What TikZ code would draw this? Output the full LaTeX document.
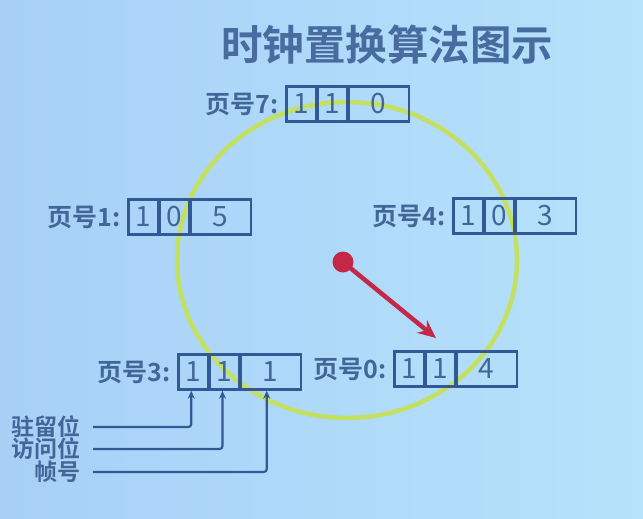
\documentclass[tikz,border=0pt]{standalone}
\usepackage{fontspec}
\usetikzlibrary{arrows.meta}
\newfontfamily\cjk{Noto Sans CJK SC}[BoldFont={Noto Sans CJK SC Bold}]
\definecolor{bgl}{RGB}{168,208,247}
\definecolor{bgr}{RGB}{182,226,251}
\definecolor{inkblue}{RGB}{50,88,150}
\definecolor{txtblue}{RGB}{66,102,152}
\definecolor{titleblue}{RGB}{72,108,160}
\definecolor{ringgreen}{RGB}{196,224,96}
\definecolor{handred}{RGB}{196,40,72}
\tikzset{
  cell/.style={draw=inkblue, line width=2.5pt, minimum height=35pt, inner sep=0pt,
    text=txtblue, font=\cjk\fontsize{28}{28}\selectfont, anchor=west},
  pagelabel/.style={anchor=east, inner sep=0pt, text=txtblue, font=\cjk\bfseries\fontsize{25}{25}\selectfont},
  fieldlabel/.style={anchor=east, inner sep=0pt, text=txtblue, font=\cjk\bfseries\fontsize{23}{23}\selectfont},
  pointer/.style={draw=inkblue, line width=2.2pt, rounded corners=3pt, -{Stealth[length=8pt,width=7pt]}},
  ring/.style={draw=ringgreen, line width=4.5pt},
  hand/.style={draw=handred, line width=4.5pt, -{Stealth[length=18pt,width=16pt]}}
}
% one page entry: label followed by three cells (name-a, name-b, name-c)
\newcommand\pageentry[7]{%
  \node[cell, minimum width=30pt] (#1-a) at (#2,#3) {#5};
  \node[cell, minimum width=30pt] (#1-b) at ([xshift=-1.25pt]#1-a.east) {#6};
  \node[cell, minimum width=60pt] (#1-c) at ([xshift=-1.25pt]#1-b.east) {#7};
  \node[pagelabel] (#1-lbl) at (#2-6,#3) {#4};
}
\begin{document}
\begin{tikzpicture}[x=1pt,y=-1pt]
  % background
  \shade[left color=bgl, right color=bgr] (0,0) rectangle (643,519);
  \useasboundingbox (0,0) rectangle (643,519);

  % title
  \node[text=titleblue, font=\cjk\bfseries\fontsize{41.5}{41.5}\selectfont] (title) at (387,45) {时钟置换算法图示};

  % clock face
  \draw[ring] (347,260) ellipse [x radius=170, y radius=158];

  % page entries
  \pageentry{p7}{285}{104}{页号7:}{1}{1}{0}
  \pageentry{p1}{127}{217}{页号1:}{1}{0}{5}
  \pageentry{p4}{452}{216}{页号4:}{1}{0}{3}
  \pageentry{p3}{177}{372}{页号3:}{1}{1}{1}
  \pageentry{p0}{393}{369}{页号0:}{1}{1}{4}

  % clock hand
  \node[circle, fill=handred, minimum size=21pt, inner sep=0pt] (hub) at (343,262) {};
  \coordinate (handtip) at (436,338);
  \draw[hand] (hub.center) -- (handtip);

  % field legend
  \node[fieldlabel] (resident) at (81,427) {驻留位};
  \node[fieldlabel] (visited) at (81,449) {访问位};
  \node[fieldlabel] (frame) at (81,472) {帧号};
  \draw[pointer] ([xshift=12pt]resident.east) -| ([xshift=-2pt]p3-a.south);
  \draw[pointer] ([xshift=12pt]visited.east) -| ([xshift=-2pt]p3-b.south);
  \draw[pointer] ([xshift=12pt]frame.east) -| ([xshift=-4pt]p3-c.south);
\end{tikzpicture}
\end{document}
